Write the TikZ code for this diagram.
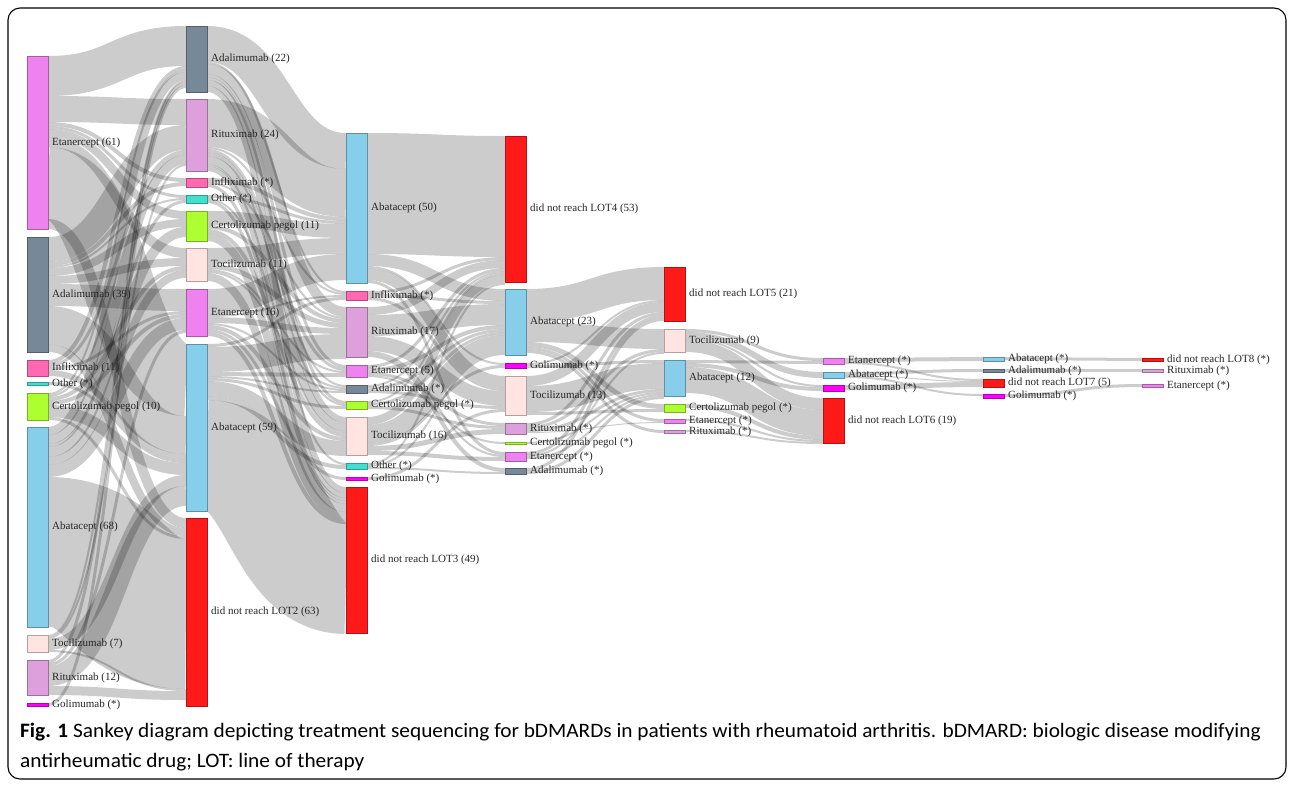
\documentclass[tikz,border=0pt]{standalone}
\usepackage{fontspec}
\setmainfont{Liberation Serif}
\newfontfamily\capfont[FakeStretch=1.04]{Carlito}
\usetikzlibrary{positioning,calc}
\pgfdeclarelayer{background}
\pgfsetlayers{background,main}

\definecolor{etan}{HTML}{EE82EE}
\definecolor{adal}{HTML}{778899}
\definecolor{infl}{HTML}{FF69B4}
\definecolor{othr}{HTML}{40E0D0}
\definecolor{cert}{HTML}{ADFF2F}
\definecolor{abat}{HTML}{87CEEB}
\definecolor{toci}{HTML}{FFE4E1}
\definecolor{ritu}{HTML}{DDA0DD}
\definecolor{goli}{HTML}{FF00FF}
\definecolor{nolot}{HTML}{FF1A1A}

\tikzset{
  drugbox/.style={rectangle, minimum width=21pt, inner sep=0pt, outer sep=0pt, line width=0.5pt},
  lbl/.style={inner sep=0pt, font=\fontsize{11}{13}\selectfont, text=black!85},
  link/.style={draw=black, draw opacity=0.2},
}

% one bar of the sankey: name, left x, top, bottom, colour, label
\newcommand\drug[6]{%
  \node[drugbox, fill=#5, draw=#5!70!black, minimum height={(#4-#3)*1pt}] (#1) at (#2+10.5,{(#3+#4)/2}) {};
  \node[lbl, right=4pt of #1] (#1l) {#6};}
% one band: source, offset, target, offset, width
\newcommand\flow[5]{%
  \draw[link, line width=#5pt] ($(#1.north east)+(0,{#2+#5/2})$) .. controls +(69,0) and +(-69,0) .. ($(#3.north west)+(0,{#4+#5/2})$);}

\begin{document}
\begin{tikzpicture}[x=1pt,y=-1pt]
\useasboundingbox (0,0) rectangle (1292,785);
\draw[line width=1.1pt, rounded corners=12pt] (8,8) rectangle (1286,779);

% LOT1
\drug{E1}{27}{56}{229}{etan}{Etanercept (61)}
\drug{A1}{27}{237}{352}{adal}{Adalimumab (39)}
\drug{I1}{27}{360}{376}{infl}{Infliximab (11)}
\drug{O1}{27}{382}{385}{othr}{Other (*)}
\drug{C1}{27}{393}{420}{cert}{Certolizumab pegol (10)}
\drug{B1}{27}{427}{627}{abat}{Abatacept (68)}
\drug{T1}{27}{635}{652}{toci}{Tocilizumab (7)}
\drug{R1}{27}{660}{695}{ritu}{Rituximab (12)}
\drug{G1}{27}{703}{706}{goli}{Golimumab (*)}
% LOT2
\drug{A2}{186}{26}{92}{adal}{Adalimumab (22)}
\drug{R2}{186}{99}{171}{ritu}{Rituximab (24)}
\drug{I2}{186}{178}{187}{infl}{Infliximab (*)}
\drug{O2}{186}{195}{203}{othr}{Other (*)}
\drug{C2}{186}{211}{241}{cert}{Certolizumab pegol (11)}
\drug{T2}{186}{248}{281}{toci}{Tocilizumab (11)}
\drug{E2}{186}{289}{336}{etan}{Etanercept (16)}
\drug{B2}{186}{344}{511}{abat}{Abatacept (59)}
\drug{N2}{186}{518}{706}{nolot}{did not reach LOT2 (63)}
% LOT3
\drug{B3}{346}{133}{283}{abat}{Abatacept (50)}
\drug{I3}{346}{291}{300}{infl}{Infliximab (*)}
\drug{R3}{346}{307}{357}{ritu}{Rituximab (17)}
\drug{E3}{346}{365}{377}{etan}{Etanercept (5)}
\drug{A3}{346}{385}{393}{adal}{Adalimumab (*)}
\drug{C3}{346}{401}{409}{cert}{Certolizumab pegol (*)}
\drug{T3}{346}{417}{455}{toci}{Tocilizumab (16)}
\drug{O3}{346}{463}{469}{othr}{Other (*)}
\drug{G3}{346}{477}{480}{goli}{Golimumab (*)}
\drug{N3}{346}{487}{633}{nolot}{did not reach LOT3 (49)}
% LOT4
\drug{N4}{505}{136}{282}{nolot}{did not reach LOT4 (53)}
\drug{B4}{505}{289}{355}{abat}{Abatacept (23)}
\drug{G4}{505}{363}{368}{goli}{Golimumab (*)}
\drug{T4}{505}{376}{415}{toci}{Tocilizumab (13)}
\drug{R4}{505}{423}{434}{ritu}{Rituximab (*)}
\drug{C4}{505}{442}{444}{cert}{Certolizumab pegol (*)}
\drug{E4}{505}{452}{461}{etan}{Etanercept (*)}
\drug{A4}{505}{468}{474}{adal}{Adalimumab (*)}
% LOT5
\drug{N5}{664}{267}{321}{nolot}{did not reach LOT5 (21)}
\drug{T5}{664}{329}{352}{toci}{Tocilizumab (9)}
\drug{B5}{664}{360}{396}{abat}{Abatacept (12)}
\drug{C5}{664}{404}{412}{cert}{Certolizumab pegol (*)}
\drug{E5}{664}{419}{423}{etan}{Etanercept (*)}
\drug{R5}{664}{430}{433}{ritu}{Rituximab (*)}
% LOT6
\drug{E6}{823}{358}{364}{etan}{Etanercept (*)}
\drug{B6}{823}{372}{378}{abat}{Abatacept (*)}
\drug{G6}{823}{385}{391}{goli}{Golimumab (*)}
\drug{N6}{823}{398}{443}{nolot}{did not reach LOT6 (19)}
% LOT7
\drug{B7}{983}{357}{361}{abat}{Abatacept (*)}
\drug{A7}{983}{369}{372}{adal}{Adalimumab (*)}
\drug{N7}{983}{379}{387}{nolot}{did not reach LOT7 (5)}
\drug{G7}{983}{394}{398}{goli}{Golimumab (*)}
% LOT8
\drug{N8}{1142}{358}{361}{nolot}{did not reach LOT8 (*)}
\drug{R8}{1142}{369}{372}{ritu}{Rituximab (*)}
\drug{E8}{1142}{384}{387}{etan}{Etanercept (*)}

\begin{pgfonlayer}{background}
% LOT1 -> LOT2
\foreach \s/\a/\t/\b/\w in {E1/0/A2/0/40, E1/40/R2/0/26, E1/66/I2/0/4, E1/70/O2/0/3, E1/73/C2/0/8, E1/81/T2/0/10, E1/91/B2/0/72, E1/163/N2/0/10,
    A1/0/R2/26/25, A1/25/I2/4/4, A1/29/O2/3/2, A1/31/C2/8/8, A1/39/T2/10/8, A1/47/E2/0/22, A1/69/B2/72/38, A1/107/N2/10/8,
    I1/0/A2/40/4, I1/4/R2/51/3, I1/7/E2/22/3, I1/10/B2/110/6, O1/0/B2/116/3,
    C1/0/A2/44/2, C1/2/R2/54/2, C1/4/T2/18/4, C1/8/E2/25/4, C1/12/B2/119/12, C1/24/N2/18/3,
    B1/0/A2/46/8, B1/8/R2/56/9, B1/17/O2/5/3, B1/20/C2/16/10, B1/30/T2/22/8, B1/38/E2/29/12, B1/50/N2/21/150,
    T1/0/A2/54/2, T1/2/R2/65/2, T1/4/B2/131/11, T1/15/N2/171/2,
    R1/0/A2/56/3, R1/3/E2/41/3, R1/6/B2/142/20, R1/26/N2/173/9, G1/0/A2/59/3}
  \flow{\s}{\a}{\t}{\b}{\w};
% LOT2 -> LOT3
\foreach \s/\a/\t/\b/\w in {A2/0/B3/0/36, A2/36/I3/0/2, A2/38/R3/0/10, A2/48/E3/0/3, A2/51/C3/0/3, A2/54/T3/0/6, A2/60/N3/0/6,
    R2/0/B3/36/48, R2/48/I3/2/2, R2/50/E3/3/3, R2/53/A3/0/2, R2/55/C3/3/2, R2/57/T3/6/8, R2/65/O3/0/2, R2/67/N3/6/5,
    I2/0/B3/84/4, I2/4/R3/10/2, I2/6/N3/11/3,
    O2/0/B3/88/3, O2/3/T3/14/2, O2/5/N3/14/3,
    C2/0/B3/91/14, C2/14/R3/12/4, C2/18/T3/16/4, C2/22/N3/17/8,
    T2/0/B3/105/16, T2/16/R3/16/5, T2/21/E3/6/2, T2/23/A3/2/2, T2/25/N3/25/8,
    E2/0/B3/121/26, E2/26/I3/4/2, E2/28/R3/21/6, E2/34/A3/4/2, E2/36/T3/20/4, E2/40/G3/0/3, E2/43/N3/33/4,
    B2/0/I3/6/3, B2/3/R3/27/25, B2/28/E3/8/4, B2/32/A3/6/2, B2/34/C3/5/3, B2/37/T3/24/15, B2/52/O3/2/4, B2/56/N3/37/110}
  \flow{\s}{\a}{\t}{\b}{\w};
% LOT3 -> LOT4
\foreach \s/\a/\t/\b/\w in {B3/0/N4/0/121, B3/121/B4/0/12, B3/133/G4/0/2, B3/135/T4/0/12, B3/147/E4/0/3,
    I3/0/N4/121/3, I3/3/B4/12/3, I3/6/T4/12/3,
    R3/0/N4/124/8, R3/8/B4/15/21, R3/29/T4/15/15, R3/44/E4/3/2, R3/46/A4/0/4,
    E3/0/N4/132/3, E3/3/B4/36/4, E3/7/R4/0/3, E3/10/C4/0/2,
    A3/0/N4/135/2, A3/2/B4/40/3, A3/5/T4/30/3,
    C3/0/N4/137/2, C3/2/B4/43/3, C3/5/R4/3/3,
    T3/0/N4/139/8, T3/8/B4/46/18, T3/26/G4/2/3, T3/29/R4/6/5, T3/34/E4/5/4,
    O3/0/N4/147/2, O3/2/B4/64/2, O3/4/A4/4/2, G3/0/T4/33/3}
  \flow{\s}{\a}{\t}{\b}{\w};
% LOT4 -> LOT5
\foreach \s/\a/\t/\b/\w in {B4/0/N5/0/33, B4/33/T5/0/20, B4/53/C5/0/5, B4/58/E5/0/3, B4/61/R5/0/3,
    G4/0/N5/33/2, G4/2/B5/0/3, T4/0/N5/35/10, T4/10/B5/3/26, T4/36/C5/5/3,
    R4/0/N5/45/3, R4/3/T5/20/3, R4/6/B5/29/3, R4/9/E5/3/1, C4/0/B5/32/2,
    E4/0/N5/48/3, E4/3/T5/23/2, E4/5/B5/34/2, A4/0/N5/51/3, A4/3/B5/36/3}
  \flow{\s}{\a}{\t}{\b}{\w};
% LOT5 -> LOT8
\foreach \s/\a/\t/\b/\w in {T5/0/E6/0/3, T5/3/B6/0/6, T5/9/G6/0/2, T5/11/N6/0/12,
    B5/0/E6/3/3, B5/3/G6/2/4, B5/7/N6/12/26, C5/0/N6/38/4, E5/0/N6/42/2, R5/0/N6/44/2,
    E6/0/B7/0/4, E6/4/N7/0/2, B6/0/A7/0/3, B6/3/N7/2/1, B6/4/G7/0/2, G6/0/N7/3/5,
    B7/0/N8/0/3, A7/0/R8/0/3, G7/0/E8/0/3}
  \flow{\s}{\a}{\t}{\b}{\w};
\end{pgfonlayer}

% caption
\node[anchor=west, inner sep=0pt, font=\capfont\fontsize{20.5}{23}\selectfont] (cap1) at (20,732)
  {\textbf{Fig. 1} Sankey diagram depicting treatment sequencing for bDMARDs in patients with rheumatoid arthritis. bDMARD: biologic disease modifying};
\node[anchor=west, inner sep=0pt, font=\capfont\fontsize{20.5}{23}\selectfont] (cap2) at (20,762)
  {antirheumatic drug; LOT: line of therapy};
\end{tikzpicture}
\end{document}
